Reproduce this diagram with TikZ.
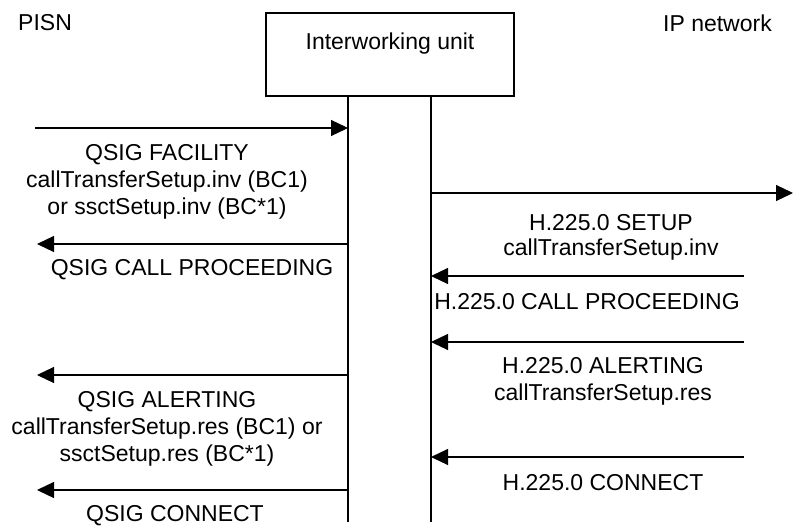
\documentclass[tikz,border=0pt]{standalone}
\usepackage{fontspec}
\setmainfont{Liberation Sans}
\usetikzlibrary{arrows.meta}
\begin{document}
\begin{tikzpicture}[x=1pt,y=-1pt,
  msg/.style={line width=1.2pt, -{Triangle[length=17pt,width=16pt]}},
  life/.style={line width=1.2pt},
  lbl/.style={align=center, inner sep=0pt, font=\fontsize{23}{27}\selectfont},
  unitbox/.style={draw, line width=1.2pt, minimum width=248pt, minimum height=83pt, align=center, inner sep=0pt, font=\fontsize{23}{27}\selectfont},
  ]
\useasboundingbox (0,0) rectangle (794,527);
% headers
\node[lbl, anchor=west] (pisn) at (18,23) {PISN};
\node[lbl, anchor=east] (ipn) at (772,23) {IP network};
\node[unitbox] (iwu) at (390,54.5) {Interworking unit\\[-8pt]\strut};
% lifelines
\coordinate (Ltop) at (348,96); \coordinate (Lbot) at (348,522);
\coordinate (Rtop) at (431,96); \coordinate (Rbot) at (431,522);
\draw[life] (Ltop) -- (Lbot);
\draw[life] (Rtop) -- (Rbot);
% end points
\coordinate (p1a) at (35,128);  \coordinate (p1b) at (348,128);
\coordinate (p2a) at (348,244); \coordinate (p2b) at (37,244);
\coordinate (p3a) at (431,193); \coordinate (p3b) at (793,193);
\coordinate (p4a) at (744,276); \coordinate (p4b) at (431,276);
\coordinate (p5a) at (744,342); \coordinate (p5b) at (431,342);
\coordinate (p6a) at (744,457); \coordinate (p6b) at (431,457);
\coordinate (p7a) at (348,375); \coordinate (p7b) at (37,375);
\coordinate (p8a) at (348,490); \coordinate (p8b) at (37,490);
\draw[msg] (p1a) -- (p1b);
\draw[msg] (p2a) -- (p2b);
\draw[msg] (p3a) -- (p3b);
\draw[msg] (p4a) -- (p4b);
\draw[msg] (p5a) -- (p5b);
\draw[msg] (p6a) -- (p6b);
\draw[msg] (p7a) -- (p7b);
\draw[msg] (p8a) -- (p8b);
% labels
\node[lbl] (l1) at (167,182) {QSIG FACILITY\\callTransferSetup.inv (BC1)\\or ssctSetup.inv (BC*1)};
\node[lbl] (l2) at (192,270) {QSIG CALL PROCEEDING};
\node[lbl] (l3) at (611,237.5) {H.225.0 SETUP\\[-2pt]callTransferSetup.inv};
\node[lbl] (l4) at (587,302) {H.225.0 CALL PROCEEDING};
\node[lbl] (l5) at (603,381.5) {H.225.0 ALERTING\\callTransferSetup.res};
\node[lbl] (l6) at (603,483) {H.225.0 CONNECT};
\node[lbl] (l7) at (167,429) {QSIG ALERTING\\callTransferSetup.res (BC1) or\\ssctSetup.res (BC*1)};
\node[lbl] (l8) at (175,516) {QSIG CONNECT};
\end{tikzpicture}
\end{document}
